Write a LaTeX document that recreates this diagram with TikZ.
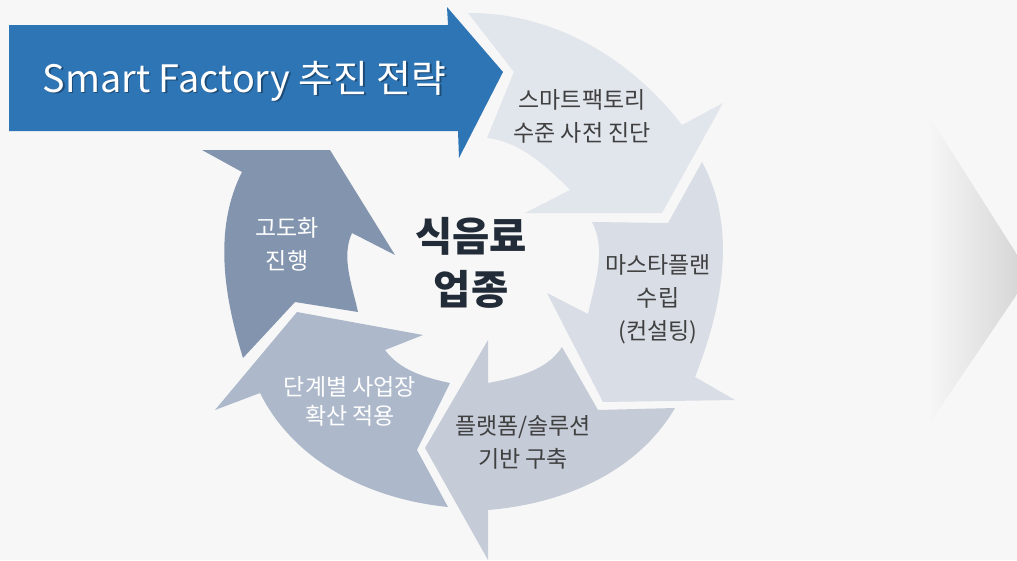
\documentclass[tikz,border=0pt]{standalone}
\usepackage{fontspec}
\setmainfont{Noto Sans CJK KR}
\definecolor{bgc}{HTML}{F7F7F7}
\definecolor{blueA}{HTML}{2E75B6}
\definecolor{arA}{HTML}{E1E5EC}
\definecolor{arB}{HTML}{D8DDE6}
\definecolor{arC}{HTML}{C5CCD8}
\definecolor{arD}{HTML}{ADB9CB}
\definecolor{arE}{HTML}{8395AE}
\definecolor{txtdark}{HTML}{404040}
\definecolor{ctr}{HTML}{222B38}
\definecolor{chev}{HTML}{D3D3D3}
\begin{document}
\begin{tikzpicture}[x=1pt,y=-1pt,
  lbl/.style={align=center, inner sep=0pt, font=\fontsize{23}{33}\selectfont, text=txtdark},
  lblw/.style={lbl, text=white},
  ttl/.style={inner sep=0pt, font=\fontsize{37.8}{42}\selectfont}]
\useasboundingbox (0,0) rectangle (1017,560);
\fill[bgc] (0,0) rectangle (1017,560);
% right chevron
\begin{scope}
\clip (0,0) rectangle (1017,560);
\shade[left color=bgc, right color=chev] (927,113) -- (1030,275) -- (927,427) -- cycle;
\end{scope}
% arrow 1
\fill[arA] (468,13) .. controls (552.8,12.4) and (630.3,57.8) .. (682,125) -- (723,103) -- (662,213) -- (525,213) -- (570,190) .. controls (546.6,166.1) and (520.2,141.8) .. (487,138) -- (514,72) -- cycle;
% arrow 2
\fill[arB] (702,162) .. controls (737.7,227.7) and (722.5,307.4) .. (695,377) -- (735,400) -- (603,402) -- (547,293) -- (588,314) .. controls (594.7,283.5) and (606.9,249.5) .. (592,222) -- (668,223) -- cycle;
% arrow 3
\fill[arC] (675,408) .. controls (637.1,472.7) and (562.8,503.9) .. (488,510) -- (488,560) -- (425,448) -- (488,340) -- (488,383) .. controls (515.8,377.7) and (546.7,370.8) .. (562,347) -- (598,410) -- cycle;
% arrow 4
\fill[arD] (448,507) .. controls (370.5,499.2) and (294.8,462.7) .. (260,393) -- (215,410) -- (297,312) -- (423,335) -- (385,350) .. controls (399.7,370.2) and (425.5,377.8) .. (450,383) -- (417,450) -- cycle;
% arrow 5
\fill[arE] (243,358) .. controls (224.1,296.7) and (213,229.1) .. (242,172) -- (202,150) -- (330,150) -- (395,255) -- (352,233) .. controls (340.8,257) and (352.4,286.1) .. (358,312) -- (295,302) -- cycle;
% blue banner
\fill[blueA] (9,25) -- (448,25) -- (447,7) -- (503,72) -- (459,158) -- (458,131) -- (9,131) -- cycle;
\node[ttl, text=black, opacity=0.35, anchor=base] (titleshadow) at (246,93.5) {Smart Factory 추진 전략};
\node[ttl, text=white, anchor=base] (title) at (244.5,92) {Smart Factory 추진 전략};
% labels
\node[align=center, inner sep=0pt, font=\bfseries\fontsize{40.5}{53}\selectfont, text=ctr] (center) at (471,262.5) {식음료\\업종};
\node[lbl] (l1) at (582,116.5) {스마트팩토리\\수준 사전 진단};
\node[lbl] (l2) at (658,299) {마스타플랜\\수립\\(컨설팅)};
\node[lbl] (l3) at (523,442) {플랫폼/솔루션\\기반 구축};
\node[lblw, font=\fontsize{23}{29}\selectfont] (l4) at (350,401.5) {단계별 사업장\\확산 적용};
\node[lblw] (l5) at (287,244.5) {고도화\\진행};
\end{tikzpicture}
\end{document}
